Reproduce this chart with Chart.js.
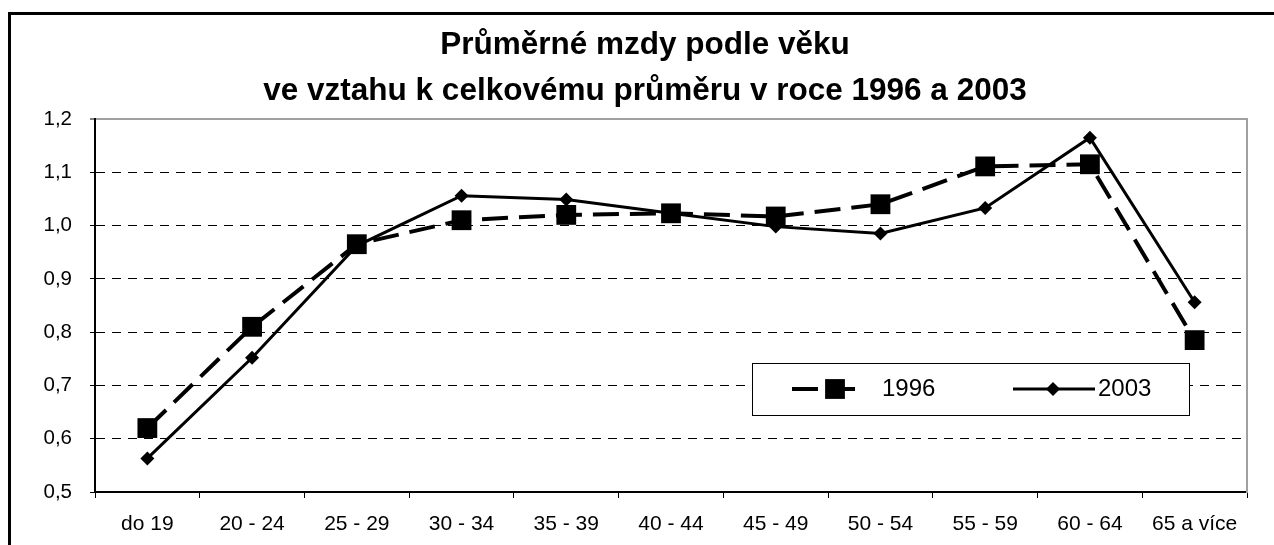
<!DOCTYPE html>
<html><head><meta charset="utf-8">
<script src="https://cdn.jsdelivr.net/npm/chart.js@4.4.1/dist/chart.umd.min.js"></script>
<style>html,body{margin:0;padding:0;background:#fff;}canvas{display:block;}</style>
</head><body>
<canvas id="c" width="1274" height="545"></canvas>
<script>
const categories = ['do 19','20 - 24','25 - 29','30 - 34','35 - 39','40 - 44','45 - 49','50 - 54','55 - 59','60 - 64','65 a více'];
const values1996 = [0.62, 0.81, 0.965, 1.01, 1.02, 1.023, 1.017, 1.04, 1.111, 1.115, 0.785];
const values2003 = [0.563, 0.752, 0.962, 1.056, 1.049, 1.023, 0.998, 0.985, 1.033, 1.165, 0.856];
const seriesLabels = ['1996', '2003'];
const titleLines = ['Průměrné mzdy podle věku', 've vztahu k celkovému průměru v roce 1996 a 2003'];
const yMin = 0.5, yMax = 1.2, yStep = 0.1;

const FONT = "'Liberation Sans', Arial, sans-serif";

const framePlugin = {
  id: 'frame',
  afterDraw(chart) {
    const ctx = chart.ctx;
    ctx.save();
    ctx.strokeStyle = '#000';
    ctx.lineWidth = 3;
    ctx.beginPath();
    ctx.moveTo(9.5, 545);
    ctx.lineTo(9.5, 13.5);
    ctx.lineTo(1274, 13.5);
    ctx.stroke();
    ctx.restore();
  }
};

const legendPlugin = {
  id: 'boxLegend',
  afterDraw(chart) {
    const ctx = chart.ctx;
    const box = {x: 752, y: 363, w: 437, h: 52};
    const cy = box.y + box.h / 2;
    ctx.save();
    ctx.fillStyle = '#fff';
    ctx.fillRect(box.x, box.y, box.w, box.h);
    ctx.strokeStyle = '#000';
    ctx.lineWidth = 1;
    ctx.strokeRect(box.x + 0.5, box.y + 0.5, box.w, box.h);
    const items = [
      {x0: 792, x1: 863, mx: 835, tx: 882},
      {x0: 1013, x1: 1095, mx: 1053, tx: 1098}
    ];
    chart.data.datasets.forEach((ds, i) => {
      const it = items[i];
      ctx.save();
      ctx.strokeStyle = ds.borderColor;
      ctx.lineWidth = ds.borderWidth;
      ctx.setLineDash(ds.borderDash || []);
      ctx.beginPath();
      ctx.moveTo(it.x0, cy);
      ctx.lineTo(it.x1, cy);
      ctx.stroke();
      ctx.restore();
      ctx.fillStyle = ds.pointBackgroundColor;
      Chart.helpers.drawPoint(ctx, {pointStyle: ds.pointStyle, radius: ds.pointRadius, rotation: 0, borderWidth: 0}, it.mx, cy);
      ctx.fillStyle = '#000';
      ctx.font = "24px " + FONT;
      ctx.textBaseline = 'middle';
      ctx.textAlign = 'left';
      ctx.fillText(ds.label, it.tx, cy);
    });
    ctx.restore();
  }
};

new Chart(document.getElementById('c'), {
  type: 'line',
  data: {
    labels: categories,
    datasets: [
      {
        label: seriesLabels[0], data: values1996,
        borderColor: '#000', backgroundColor: '#000', borderWidth: 4, borderDash: [26, 11],
        pointStyle: 'rect', pointRadius: 14, pointHoverRadius: 14,
        pointBackgroundColor: '#000', pointBorderColor: '#000', pointBorderWidth: 0,
        tension: 0, fill: false
      },
      {
        label: seriesLabels[1], data: values2003,
        borderColor: '#000', backgroundColor: '#000', borderWidth: 3,
        pointStyle: 'rectRot', pointRadius: 7, pointHoverRadius: 7,
        pointBackgroundColor: '#000', pointBorderColor: '#000', pointBorderWidth: 0,
        tension: 0, fill: false
      }
    ]
  },
  plugins: [framePlugin, legendPlugin],
  options: {
    responsive: false,
    animation: false,
    events: [],
    layout: {padding: {left: 16, right: 0, top: 0, bottom: 0}},
    plugins: {
      legend: {display: false},
      tooltip: {enabled: false},
      title: {
        display: true,
        text: titleLines,
        color: '#000',
        font: {family: FONT, size: 31.5, weight: 'bold', lineHeight: 1.46},
        padding: {top: 22, bottom: 5}
      }
    },
    scales: {
      x: {
        type: 'category',
        offset: true,
        grid: {offset: true, drawOnChartArea: false, drawTicks: true, tickLength: 6, tickColor: '#000', tickWidth: 1},
        border: {display: true, color: '#000', width: 2},
        ticks: {color: '#000', font: {family: FONT, size: 21}, padding: 14, maxRotation: 0, autoSkip: false},
        afterFit(s) { s.height = 53; }
      },
      y: {
        type: 'linear',
        min: yMin, max: yMax,
        grid: {
          color: c => (c.tick && c.tick.value > yMax - yStep / 2) ? '#a0a0a0' : '#000',
          lineWidth: c => (c.tick && c.tick.value > yMax - yStep / 2) ? 2 : 1,
          drawTicks: true, tickLength: 5, tickColor: '#000', tickWidth: 1, tickBorderDash: []
        },
        border: {
          display: true, color: '#000', width: 2,
          dash: c => (c.tick && c.tick.value > yMax - yStep / 2) ? [] : [9, 7]
        },
        ticks: {
          stepSize: yStep, color: '#000', font: {family: FONT, size: 20.5}, padding: 18,
          callback: v => v.toFixed(1).replace('.', ',')
        },
        afterFit(s) { s.width = 79; }
      },
      yRight: {
        type: 'linear', axis: 'y', position: 'right', display: true,
        grid: {display: false, drawOnChartArea: false, drawTicks: false},
        border: {display: true, color: '#a0a0a0', width: 2},
        ticks: {display: false},
        afterFit(s) { s.width = 27; }
      }
    }
  }
});
</script>
</body></html>
